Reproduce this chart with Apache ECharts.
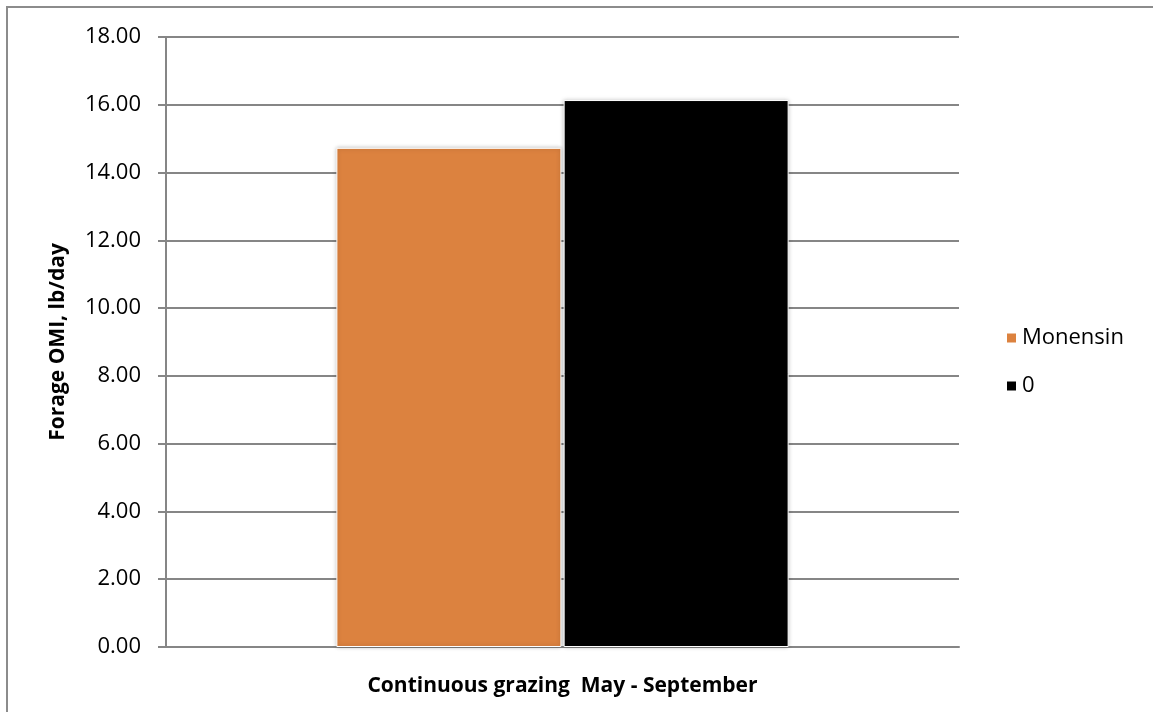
<!DOCTYPE html>
<html>
<head>
<meta charset="utf-8">
<script src="https://cdn.jsdelivr.net/npm/echarts@6/dist/echarts.min.js"></script>
<style>
  html, body { margin: 0; padding: 0; background: #fff; }
  #chart { width: 1153px; height: 712px; }
</style>
</head>
<body>
<div id="chart"></div>
<script>
// 数据
const categories = ['Continuous grazing  May - September'];
const seriesNames = ['Monensin', '0'];
const monensinValues = [14.73];
const zeroValues = [16.14];
const colors = ['#DC823F', '#000000'];

const myChart = echarts.init(document.getElementById('chart'));

const font = '"Open Sans", sans-serif';

myChart.setOption({
    animation: false,
    grid: {left: 166, right: 194, top: 37, bottom: 65},
    graphic: [{
        type: 'polyline',
        shape: {points: [[7, 712], [7, 7], [1153, 7]]},
        style: {stroke: '#8c8c8c', lineWidth: 2, fill: null}
    }],
    legend: {
        orient: 'vertical',
        left: 1000,
        top: 322,
        itemWidth: 11,
        itemHeight: 11,
        itemGap: 26,
        icon: 'rect',
        textStyle: {fontFamily: font, fontSize: 22, color: '#000'},
        data: seriesNames
    },
    xAxis: {
        type: 'category',
        data: categories,
        name: categories[0],
        nameLocation: 'middle',
        nameGap: 29,
        nameTextStyle: {fontFamily: font, fontSize: 21, fontWeight: 'bold', color: '#000'},
        axisLine: {lineStyle: {color: '#868686', width: 2}},
        axisTick: {show: false},
        axisLabel: {show: false}
    },
    yAxis: {
        type: 'value',
        min: 0,
        max: 18,
        interval: 2,
        name: 'Forage OMI, lb/day',
        nameLocation: 'middle',
        nameGap: 97,
        nameTextStyle: {fontFamily: font, fontSize: 21, fontWeight: 'bold', color: '#000'},
        axisLine: {show: true, lineStyle: {color: '#868686', width: 2}},
        axisTick: {show: true, length: 8, lineStyle: {color: '#868686', width: 2}},
        axisLabel: {
            fontFamily: font, fontSize: 22, color: '#000', margin: 25,
            formatter: v => v.toFixed(2)
        },
        splitLine: {lineStyle: {color: '#868686', width: 2}}
    },
    series: [{
        name: seriesNames[0],
        type: 'bar',
        data: monensinValues,
        barWidth: 225,
        barGap: '1%',
        itemStyle: {
            color: colors[0], borderColor: '#ffffff', borderWidth: 1,
            shadowColor: 'rgba(0,0,0,0.25)', shadowBlur: 4
        }
    }, {
        name: seriesNames[1],
        type: 'bar',
        data: zeroValues,
        barWidth: 225,
        itemStyle: {
            color: colors[1], borderColor: '#ffffff', borderWidth: 1,
            shadowColor: 'rgba(0,0,0,0.25)', shadowBlur: 4
        }
    }]
});
</script>
</body>
</html>
